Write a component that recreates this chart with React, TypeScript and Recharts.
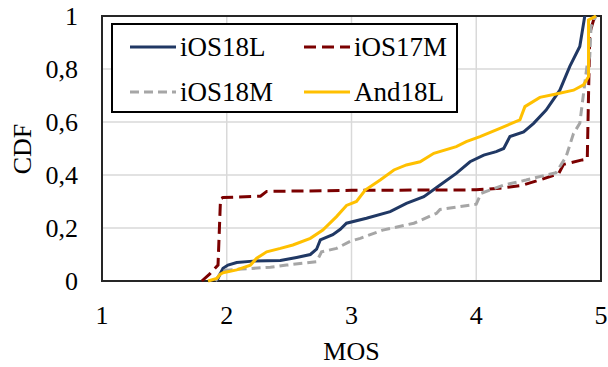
import { LineChart, Line, XAxis, YAxis, CartesianGrid, ReferenceArea } from 'recharts';

const ios18lMos = [1.92, 1.95, 1.97, 2.01, 2.08, 2.21, 2.43, 2.56, 2.67, 2.72, 2.75, 2.85, 2.91, 2.96, 3.12, 3.31, 3.44, 3.58, 3.71, 3.84, 3.95, 4.06, 4.16, 4.22, 4.27, 4.38, 4.46, 4.56, 4.67, 4.75, 4.83, 4.87];
const ios18lCdf = [0, 0.03, 0.048, 0.06, 0.07, 0.075, 0.077, 0.089, 0.1, 0.12, 0.155, 0.175, 0.195, 0.218, 0.237, 0.262, 0.293, 0.318, 0.362, 0.406, 0.45, 0.475, 0.488, 0.5, 0.545, 0.563, 0.595, 0.645, 0.72, 0.81, 0.885, 1];

const ios17mMos = [1.8, 1.86, 1.93, 1.95, 1.97, 2.27, 2.32, 3.0, 4.0, 4.19, 4.36, 4.5, 4.66, 4.7, 4.85, 4.89, 4.9, 4.91, 4.95];
const ios17mCdf = [0, 0.025, 0.06, 0.31, 0.315, 0.32, 0.338, 0.342, 0.344, 0.35, 0.36, 0.38, 0.405, 0.44, 0.457, 0.46, 0.7, 0.935, 1];

const ios18mMos = [1.91, 1.96, 2.08, 2.35, 2.48, 2.72, 2.76, 2.88, 2.99, 3.07, 3.25, 3.5, 3.68, 3.71, 4.0, 4.04, 4.22, 4.4, 4.64, 4.72, 4.78, 4.83, 4.89, 4.91, 4.92, 4.96];
const ios18mCdf = [0, 0.039, 0.044, 0.052, 0.06, 0.073, 0.11, 0.123, 0.15, 0.161, 0.192, 0.218, 0.255, 0.27, 0.29, 0.331, 0.362, 0.381, 0.409, 0.469, 0.557, 0.595, 0.82, 0.846, 0.96, 1];

const and18lMos = [1.85, 1.92, 1.95, 1.97, 2.08, 2.19, 2.24, 2.32, 2.43, 2.53, 2.67, 2.77, 2.88, 2.96, 3.04, 3.11, 3.23, 3.34, 3.44, 3.55, 3.66, 3.84, 3.92, 4.03, 4.19, 4.35, 4.39, 4.51, 4.64, 4.78, 4.86, 4.9, 4.9, 4.96];
const and18lCdf = [0, 0.01, 0.026, 0.031, 0.042, 0.06, 0.086, 0.11, 0.123, 0.136, 0.161, 0.192, 0.243, 0.285, 0.3, 0.343, 0.381, 0.419, 0.438, 0.45, 0.482, 0.507, 0.526, 0.545, 0.576, 0.608, 0.658, 0.693, 0.706, 0.72, 0.74, 0.771, 0.985, 1];

const xTicks = [1, 2, 3, 4, 5];
const yTicks = [0, 0.2, 0.4, 0.6, 0.8, 1];

const toPoints = (xs: number[], ys: number[]) => xs.map((x, i) => ({ x, y: ys[i] }));

const series = [
	{ name: 'iOS18L', data: toPoints(ios18lMos, ios18lCdf), color: '#203864', dash: undefined },
	{ name: 'iOS17M', data: toPoints(ios17mMos, ios17mCdf), color: '#7b0000', dash: '12 6' },
	{ name: 'iOS18M', data: toPoints(ios18mMos, ios18mCdf), color: '#a6a6a6', dash: '9 5' },
	{ name: 'And18L', data: toPoints(and18lMos, and18lCdf), color: '#ffc000', dash: undefined },
];

const font = 'Liberation Serif';

const LegendBox = () => {
	const cells = [
		{ s: series[0], left: 17, top: 22 },
		{ s: series[1], left: 191, top: 22 },
		{ s: series[2], left: 17, top: 67 },
		{ s: series[3], left: 191, top: 67 },
	];
	return (
		<div
			style={{
				position: 'absolute',
				left: 111,
				top: 23,
				width: 343,
				height: 86,
				border: '2px solid #000',
				background: '#fff',
				fontFamily: font,
				fontSize: 27,
				color: '#000',
			}}
		>
			{cells.map(({ s, left, top }) => (
				<div key={s.name} style={{ position: 'absolute', left, top: top - 18, height: 36, display: 'flex', alignItems: 'center' }}>
					<svg width={46} height={10} style={{ marginRight: 4 }}>
						<line x1={0} y1={5} x2={46} y2={5} stroke={s.color} strokeWidth={3} strokeDasharray={s.dash} />
					</svg>
					<span style={{ lineHeight: '36px' }}>{s.name}</span>
				</div>
			))}
		</div>
	);
};

const App = () => {
	return (
		<div style={{ position: 'absolute', left: 0, top: 0, width: 608, height: 367, background: '#fff' }}>
			<LineChart width={608} height={367} margin={{ top: 16, right: 7, bottom: 0, left: 0 }}>
				<CartesianGrid stroke='#d9d9d9' strokeWidth={1.5} />
				<XAxis
					type='number'
					dataKey='x'
					domain={[1, 5]}
					ticks={xTicks}
					height={86}
					axisLine={false}
					tickLine={false}
					tickSize={0}
					tickMargin={25}
					tick={{ fill: '#000', fontSize: 26, fontFamily: font }}
					label={{ value: 'MOS', position: 'insideBottom', offset: 7, fill: '#000', fontSize: 26, fontFamily: font }}
				/>
				<YAxis
					type='number'
					domain={[0, 1]}
					ticks={yTicks}
					width={102}
					axisLine={false}
					tickLine={false}
					tickSize={0}
					tickMargin={24}
					tickFormatter={(v: number) => String(v).replace('.', ',')}
					tick={{ fill: '#000', fontSize: 26, fontFamily: font }}
					label={() => (
						<text
							x={22}
							y={149}
							transform='rotate(-90 22 149)'
							textAnchor='middle'
							dominantBaseline='central'
							fill='#000'
							fontSize={26}
							fontFamily={font}
						>
							CDF
						</text>
					)}
				/>
				{series.map((s) => (
					<Line
						key={s.name}
						data={s.data}
						dataKey='y'
						name={s.name}
						type='linear'
						stroke={s.color}
						strokeWidth={3}
						strokeDasharray={s.dash}
						dot={false}
						isAnimationActive={false}
					/>
				))}
				<ReferenceArea x1={1} x2={5} y1={0} y2={1} fill='none' stroke='#262626' strokeWidth={2} ifOverflow='visible' />
			</LineChart>
			<LegendBox />
		</div>
	);
};

export default App;
